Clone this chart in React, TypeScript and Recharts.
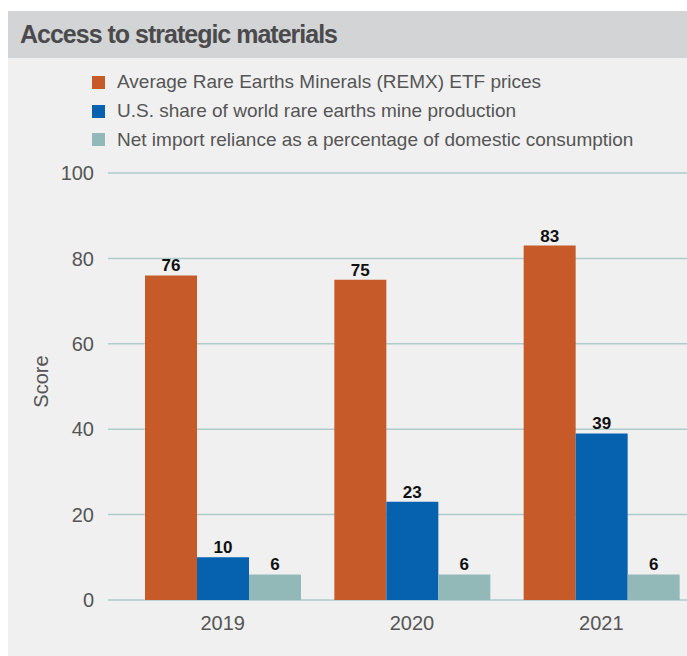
import { BarChart, Bar, XAxis, YAxis, CartesianGrid, LabelList } from 'recharts'

const YEARS = ['2019', '2020', '2021']
const REMX_PRICES = [76, 75, 83]
const US_MINE_SHARE = [10, 23, 39]
const IMPORT_RELIANCE = [6, 6, 6]
const Y_TICKS = [0, 20, 40, 60, 80, 100]

const SERIES = [
  { key: 'remx', name: 'Average Rare Earths Minerals (REMX) ETF prices', color: '#c65a28' },
  { key: 'usShare', name: 'U.S. share of world rare earths mine production', color: '#0662ae' },
  { key: 'reliance', name: 'Net import reliance as a percentage of domestic consumption', color: '#93b8b8' },
]

const data = YEARS.map((year, i) => ({
  year,
  remx: REMX_PRICES[i],
  usShare: US_MINE_SHARE[i],
  reliance: IMPORT_RELIANCE[i],
}))

const FONT = '"Liberation Sans", Arial, sans-serif'
const GRID = '#afcbcb'

function ScoreLabel({ viewBox }: any) {
  const x = 40
  const y = viewBox ? viewBox.y + viewBox.height / 2 - 5 : 320
  return (
    <text
      x={x}
      y={y}
      transform={`rotate(-90, ${x}, ${y})`}
      textAnchor="middle"
      fill="#555"
      fontSize={20}
      fontFamily={FONT}
    >
      Score
    </text>
  )
}

export default function App() {
  return (
    <div
      style={{
        position: 'fixed',
        left: 8,
        top: 11,
        width: 679,
        height: 645,
        overflow: 'hidden',
        background: '#f0f0f0',
        fontFamily: FONT,
      }}
    >
      <div
        style={{
          height: 47,
          lineHeight: '47px',
          background: '#d3d4d6',
          color: '#4a4a4c',
          paddingLeft: 12,
          fontSize: 25,
          fontWeight: 700,
          letterSpacing: -1,
        }}
      >
        Access to strategic materials
      </div>

      <div style={{ position: 'absolute', left: 84, top: 57 }}>
        {SERIES.map((s) => (
          <div key={s.key} style={{ display: 'flex', alignItems: 'center', height: 28.7 }}>
            <span style={{ width: 13, height: 13, background: s.color, marginRight: 12 }} />
            <span style={{ fontSize: 19, color: '#555' }}>{s.name}</span>
          </div>
        ))}
      </div>

      <div style={{ position: 'absolute', left: 0, top: 47 }}>
        <BarChart
          width={688}
          height={598}
          data={data}
          margin={{ top: 115, right: 0, bottom: 26, left: 0 }}
          barSize={52}
          barGap={0}
        >
          <CartesianGrid vertical={false} stroke={GRID} strokeWidth={1.5} />
          <XAxis
            dataKey="year"
            axisLine={false}
            tickLine={false}
            padding={{ left: 20, right: 0 }}
            tickMargin={10}
            tick={{ fill: '#555', fontSize: 20, fontFamily: FONT }}
          />
          <YAxis
            width={100}
            domain={[0, 100]}
            ticks={Y_TICKS}
            axisLine={false}
            tickLine={false}
            tickMargin={8}
            tick={{ fill: '#555', fontSize: 20, fontFamily: FONT }}
            label={<ScoreLabel />}
          />
          {SERIES.map((s) => (
            <Bar key={s.key} dataKey={s.key} name={s.name} fill={s.color} isAnimationActive={false}>
              <LabelList
                dataKey={s.key}
                position="top"
                offset={4}
                fill="#111"
                fontSize={17}
                fontWeight={700}
                fontFamily={FONT}
              />
            </Bar>
          ))}
        </BarChart>
      </div>
    </div>
  )
}
